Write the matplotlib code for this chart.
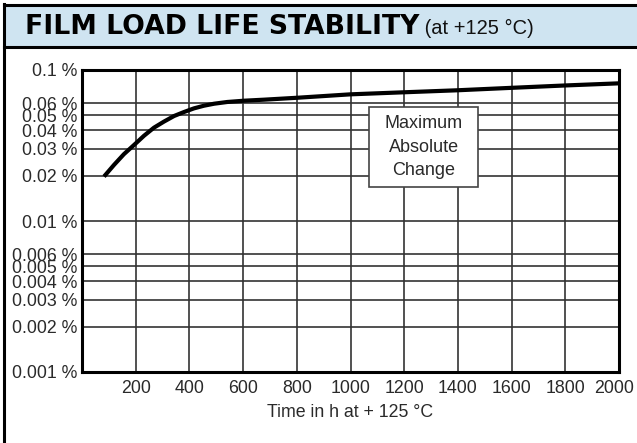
import matplotlib
matplotlib.use("Agg")
import matplotlib.pyplot as plt
import matplotlib.transforms as mtransforms
from matplotlib.patches import Rectangle
from matplotlib.lines import Line2D

# Data
hours = [82, 119, 156, 194, 231, 268, 305, 343, 380, 417, 454, 492, 541, 603,
         678, 802, 1000, 1200, 1398, 1600, 1800, 2000]
change_pct = [0.0197, 0.0235, 0.0277, 0.0319, 0.0367, 0.0415, 0.0455, 0.0496,
              0.0527, 0.0557, 0.0580, 0.0598, 0.0614, 0.0626, 0.0636, 0.0655,
              0.0690, 0.0712, 0.0734, 0.0762, 0.0790, 0.0816]

y_ticks = [0.001, 0.002, 0.003, 0.004, 0.005, 0.006, 0.01, 0.02, 0.03,
           0.04, 0.05, 0.06, 0.1]
y_tick_labels = ["0.001 %", "0.002 %", "0.003 %", "0.004 %", "0.005 %",
                 "0.006 %", "0.01 %", "0.02 %", "0.03 %", "0.04 %",
                 "0.05 %", "0.06 %", "0.1 %"]
x_ticks = [200, 400, 600, 800, 1000, 1200, 1400, 1600, 1800, 2000]
x_tick_labels = [str(v) for v in x_ticks]

title_bold = "FILM LOAD LIFE STABILITY"
title_normal = " (at +125 °C)"
x_label = "Time in h at + 125 °C"
box_text = "Maximum\nAbsolute\nChange"

W, H = 637, 443
plt.rcParams['font.family'] = ['Liberation Sans', 'DejaVu Sans']
fig = plt.figure(figsize=(W / 100, H / 100), dpi=100)

# title bar
fig.patches.append(Rectangle((4 / W, 1 - 47 / H), 1, 42 / H, transform=fig.transFigure,
                             facecolor="#cfe4f1", edgecolor="none", zorder=0))
for yy in (5, 47):
    fig.lines.append(Line2D([4 / W, 1], [1 - yy / H] * 2, transform=fig.transFigure,
                            color="black", lw=2.2))
fig.lines.append(Line2D([4 / W] * 2, [0, 1 - 4 / H], transform=fig.transFigure,
                        color="black", lw=2.2))

t1 = fig.text(25 / W, 1 - 33.5 / H, title_bold, fontsize=19.2, fontweight="bold",
              family=["DejaVu Sans"], va="baseline", ha="left")
fig.canvas.draw()
bb = t1.get_window_extent()
fig.text(bb.x1 / W, 1 - 33.5 / H, title_normal, fontsize=14.5, va="baseline", ha="left",
         family=["Liberation Sans", "DejaVu Sans"], color="#111111")

ax = fig.add_axes([82 / W, 1 - 372 / H, (619 - 82) / W, (372 - 70) / H])
ax.set_yscale("log")
ax.set_xlim(0, 2000)
ax.set_ylim(0.001, 0.1)

for v in y_ticks[1:-1]:
    ax.axhline(v, color="#333333", lw=1.2, zorder=1)
for v in x_ticks[:-1]:
    ax.axvline(v, color="#333333", lw=1.2, zorder=1)

ax.plot(hours, change_pct, color="black", lw=3.0, solid_capstyle="butt", zorder=3)

ax.set_yticks(y_ticks)
ax.set_yticklabels(y_tick_labels)
ax.yaxis.set_minor_locator(matplotlib.ticker.NullLocator())
ax.set_xticks(x_ticks)
ax.set_xticklabels(x_tick_labels)
ax.tick_params(length=0, labelsize=12.8, labelcolor="#2a2a2a")
ax.tick_params(axis="x", pad=6)
ax.tick_params(axis="y", pad=3)
ax.set_xlabel(x_label, fontsize=12.8, color="#2a2a2a", labelpad=5)
for s in ax.spines.values():
    s.set_linewidth(2.2)
    s.set_zorder(5)

# nudge last x tick label left so it stays inside the figure
last = ax.get_xticklabels()[-1]
last.set_transform(last.get_transform() +
                   mtransforms.ScaledTranslation(-5 / 100, 0, fig.dpi_scale_trans))

# annotation box
ax.add_patch(Rectangle((0.5345, 0.6126), 0.7374 - 0.5345, 0.8775 - 0.6126,
                       transform=ax.transAxes, facecolor="white",
                       edgecolor="#444444", lw=1.2, zorder=4))
ax.text(0.636, 0.745, box_text, transform=ax.transAxes, ha="center", va="center",
        fontsize=13.0, color="#2a2a2a", linespacing=1.47, zorder=4.5)

fig.savefig("out.png", dpi=100)
